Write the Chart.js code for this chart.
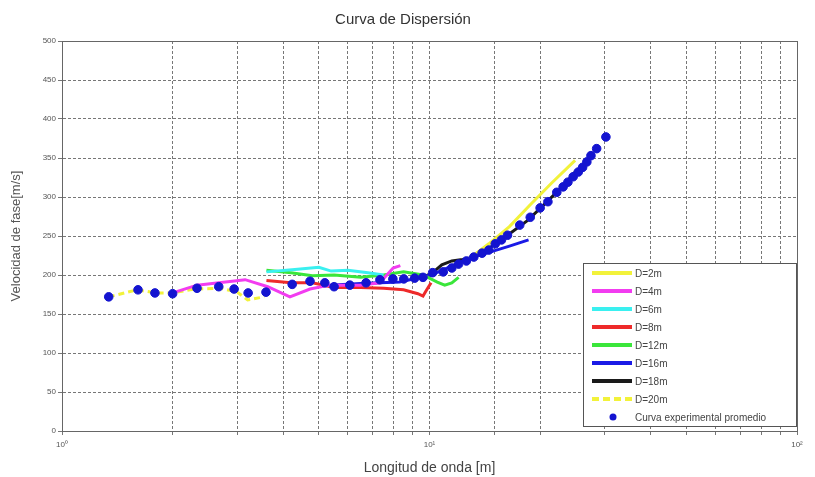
<!DOCTYPE html>
<html>
<head>
<meta charset="utf-8">
<script src="https://cdn.jsdelivr.net/npm/chart.js@4/dist/chart.umd.min.js"></script>
<style>
  html, body { margin: 0; padding: 0; background: #fff; }
  #wrap { width: 815px; height: 477px; }
</style>
</head>
<body>
<div id="wrap"><canvas id="c" width="815" height="477"></canvas></div>
<script>
// Average experimental dispersion curve (wavelength [m], phase velocity [m/s])
const expX = [1.34,1.61,1.79,2.00,2.33,2.67,2.94,3.21,3.59,4.23,4.73,5.19,5.50,6.07,6.72,7.33,7.95,8.51,9.11,9.60,10.2,10.9,11.5,12.0,12.6,13.2,13.9,14.5,15.1,15.7,16.3,17.6,18.8,20.0,21.0,22.2,23.1,23.8,24.6,25.4,26.1,26.8,27.5,28.5,30.2];
const expV = [172,181,177,176,183,185,182,177,178,188,192,190,185,187,190,194,195,195,196,197,203,204,209,214,218,223,228,232,240,245,251,264,274,286,294,306,313,319,326,332,338,345,353,362,377];

// Curves for each source offset D
const d2X  = [12.5,14.5,16.5,18.8,21.5,24.9];
const d2V  = [217,240,262,290,318,347];
const d4X  = [2.0,2.33,3.15,3.63,4.17,4.73,5.35,6.47,7.33,7.96,8.33];
const d4V  = [177,187,194,185,172,182,187,187,190,209,212];
const d6X  = [3.6,4.3,5.0,5.4,6.0,6.8,7.5];
const d6V  = [204,207,210,205,206,203,200];
const d8X  = [3.6,4.2,4.8,5.5,6.5,7.5,8.5,9.3,9.6,9.8,10.1];
const d8V  = [193,190,190,184,184,183,181,176,173,180,190];
const d12X = [3.6,4.2,4.8,5.5,6.5,7.5,8.5,9.6,10.5,11.0,11.5,12.0];
const d12V = [206,203,199,200,197,200,204,200,191,187,190,197];
const d16X = [5.35,6.5,8.3,10.1,12.9,14.3,16.5,18.6];
const d16V = [187,189,191,200,222,228,237,245];
const d18X = [9.6,10.2,10.8,11.5,12.3,13.0,14.0,16.0,18.5,21.0,23.5,25.0];
const d18V = [197,203,213,218,220,222,229,248,270,295,318,333];
const d20X = [1.34,1.6,1.8,2.0,2.3,2.7,3.0,3.2,3.55];
const d20V = [172,181,177,177,182,183,178,168,172];

const xTickLabels = { 1: '10\u2070', 10: '10\u00B9', 100: '10\u00B2' };

const pts = (xs, ys) => xs.map((x, i) => ({ x: x, y: ys[i] }));

function curve(label, xs, ys, color, dash) {
  return {
    label: label,
    data: pts(xs, ys),
    showLine: true,
    borderColor: color,
    backgroundColor: color,
    borderWidth: 3,
    borderDash: dash || [],
    pointRadius: 0,
    tension: 0,
    order: 2
  };
}

const datasets = [
  curve('D=2m',  d2X,  d2V,  '#f2f23a'),
  curve('D=4m',  d4X,  d4V,  '#f23cf0'),
  curve('D=6m',  d6X,  d6V,  '#3af0f0'),
  curve('D=8m',  d8X,  d8V,  '#ee2a2a'),
  curve('D=12m', d12X, d12V, '#3ae63a'),
  curve('D=16m', d16X, d16V, '#1a1ae6'),
  curve('D=18m', d18X, d18V, '#1a1a1a'),
  curve('D=20m', d20X, d20V, '#f2f23a', [6, 4]),
  {
    label: 'Curva experimental promedio',
    data: pts(expX, expV),
    showLine: false,
    pointRadius: 4.3,
    pointBackgroundColor: '#1414d0',
    pointBorderColor: '#1414d0',
    order: 0
  }
];

// Frame around the plot area plus the boxed legend in the lower right corner
const framePlugin = {
  id: 'frameAndLegend',
  afterDraw(chart) {
    const ctx = chart.ctx;
    const a = chart.chartArea;
    ctx.save();
    ctx.strokeStyle = '#666';
    ctx.lineWidth = 1;
    ctx.setLineDash([]);
    ctx.strokeRect(a.left + 0.5, a.top + 0.5, a.right - a.left, a.bottom - a.top);

    // legend box
    const bx = 583, by = 263, bw = a.right - bx - 1, bh = 163;
    ctx.fillStyle = '#fff';
    ctx.fillRect(bx, by, bw, bh);
    ctx.strokeStyle = '#555';
    ctx.strokeRect(bx + 0.5, by + 0.5, bw, bh);

    ctx.font = '10px "Liberation Sans", Arial, sans-serif';
    ctx.textBaseline = 'middle';
    ctx.textAlign = 'left';
    chart.data.datasets.forEach((ds, i) => {
      const y = by + 10 + i * 18;
      if (ds.showLine) {
        ctx.strokeStyle = ds.borderColor;
        ctx.lineWidth = 4;
        ctx.setLineDash(ds.borderDash && ds.borderDash.length ? [7, 4] : []);
        ctx.beginPath();
        ctx.moveTo(592, y);
        ctx.lineTo(632, y);
        ctx.stroke();
      } else {
        ctx.setLineDash([]);
        ctx.fillStyle = ds.pointBackgroundColor;
        ctx.beginPath();
        ctx.arc(613, y, 3.5, 0, Math.PI * 2);
        ctx.fill();
      }
      ctx.fillStyle = '#444';
      ctx.fillText(ds.label, 635, y + 1);
    });
    ctx.restore();
  }
};

new Chart(document.getElementById('c'), {
  type: 'scatter',
  data: { datasets: datasets },
  options: {
    responsive: false,
    animation: false,
    layout: { padding: { top: 3, right: 18, left: 9, bottom: 0 } },
    plugins: {
      legend: { display: false },
      tooltip: { enabled: false },
      title: {
        display: true,
        text: 'Curva de Dispersión',
        color: '#333',
        font: { family: '"Liberation Sans", Arial, sans-serif', size: 15, weight: 'normal' },
        padding: { top: 8, bottom: 12 }
      }
    },
    scales: {
      x: {
        type: 'logarithmic',
        min: 1,
        max: 100,
        border: { display: true, color: '#666', dash: [3, 2] },
        grid: { color: '#777', lineWidth: 1, drawTicks: true, tickLength: 4 },
        ticks: {
          autoSkip: false,
          maxRotation: 0,
          color: '#555',
          font: { family: '"Liberation Sans", Arial, sans-serif', size: 8 },
          padding: 5,
          callback: (v) => xTickLabels[v] || ''
        },
        title: {
          display: true,
          text: 'Longitud de onda [m]',
          color: '#444',
          font: { family: '"Liberation Sans", Arial, sans-serif', size: 14 },
          padding: { top: 1, bottom: 0 }
        },
        afterFit: (s) => { s.height = 46; }
      },
      y: {
        min: 0,
        max: 500,
        border: { display: true, color: '#666', dash: [3, 2] },
        grid: { color: '#777', lineWidth: 1, drawTicks: true, tickLength: 4 },
        ticks: {
          stepSize: 50,
          color: '#555',
          font: { family: '"Liberation Sans", Arial, sans-serif', size: 8 },
          padding: 2
        },
        title: {
          display: true,
          text: 'Velocidad de fase[m/s]',
          color: '#555',
          font: { family: '"Liberation Sans", Arial, sans-serif', size: 13 },
          padding: { top: 0, bottom: 4 }
        },
        afterFit: (s) => { s.width = 53; }
      }
    }
  },
  plugins: [framePlugin]
});
</script>
</body>
</html>
